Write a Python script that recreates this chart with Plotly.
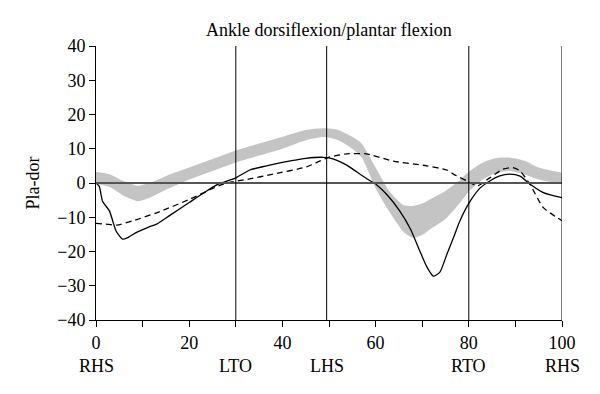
import plotly.graph_objects as go

# Normal band (gray)
band_x = [0, 3, 6, 9, 12, 15, 20, 25, 30, 35, 40, 45, 49, 52, 55, 57, 60, 63, 66, 68, 70, 72, 75, 78, 80, 83, 86, 89, 92, 95, 100]
band_top = [3.3, 2.5, 0.5, -0.8, 0.3, 2, 4.5, 7, 9.5, 11.5, 13.5, 15.5, 16, 15.5, 13.5, 11.5, 4.5, -2.5, -6.5, -6.7, -6, -4.5, -2.3, 0.8, 3.3, 6, 7.3, 7.4, 6.5, 4.5, 3]
band_bot = [-0.2, -1.2, -3.8, -5.3, -4, -2, 1, 3.5, 6, 8, 10, 12.5, 13.4, 12.5, 10, 7.5, -1.5, -8.5, -14.3, -16, -15.2, -13.2, -10.5, -6, -2.5, 1, 3, 3.5, 2.5, 1, -0.3]

# Solid patient curve
solid_x = [0, 0.7, 1.4, 2.9, 4.3, 5.7, 7, 8.6, 11.4, 13, 16, 20, 23, 26, 30, 33, 36.6, 40, 45, 48.8, 51, 53.8, 56, 58.4, 60.2, 62.5, 65.2, 67.5, 69.5, 71, 72.4, 73.8, 75.3, 76.7, 78.1, 80.3, 82.4, 84.5, 86.5, 88.8, 91, 93.1, 96, 100]
solid_y = [0, -1, -5.3, -8.2, -14, -16.4, -15.8, -14.5, -12.8, -12, -9.3, -5.7, -3, -0.5, 1.5, 3.8, 5, 6, 7.2, 7.5, 7, 5.2, 3.2, 1, -0.5, -3.5, -8.2, -13.5, -19.9, -24.5, -27.2, -26, -20.8, -16, -11, -5.3, -1.5, 0.6, 2, 2.6, 2, -0.3, -2.8, -4.3]

# Dashed patient curve
dash_x = [0, 2, 4.5, 8, 13, 20.2, 27.3, 33, 38, 45.2, 48, 50.2, 53.8, 58, 63.8, 71, 75.3, 76.7, 79.6, 81.8, 82.4, 84.5, 87.3, 89.5, 91, 93.1, 96, 100]
dash_y = [-11.8, -12, -12.3, -11, -8.7, -4.7, -0.3, 1.2, 2.6, 4.7, 6.4, 7.6, 8.5, 8.5, 6.4, 5, 3.8, 2.6, 0.6, -0.9, -0.5, 1.5, 4, 4.5, 3.5, -0.3, -7.2, -11]

event_x = [30, 49.5, 80, 100]
event_labels = ["RHS", "LTO", "LHS", "RTO", "RHS"]
event_label_x = [0, 30, 49.5, 80, 100]

x_tickvals = [0, 10, 20, 30, 40, 50, 60, 70, 80, 90, 100]
x_ticktext = ["0", "", "20", "", "40", "", "60", "", "80", "", "100"]
y_tickvals = [-40, -30, -20, -10, 0, 10, 20, 30, 40]
y_ticktext = ["\u221240", "\u221230", "\u221220", "\u221210", "0", "10", "20", "30", "40"]

FONT = "Liberation Serif"

fig = go.Figure()
fig.add_trace(go.Scatter(x=band_x, y=band_bot, mode="lines", line=dict(width=0, color="#c4c4c4", shape="spline", smoothing=0.6),
                         showlegend=False, hoverinfo="skip"))
fig.add_trace(go.Scatter(x=band_x, y=band_top, mode="lines", line=dict(width=0, color="#c4c4c4", shape="spline", smoothing=0.6),
                         fill="tonexty", fillcolor="#c4c4c4", showlegend=False, hoverinfo="skip"))
fig.add_trace(go.Scatter(x=dash_x, y=dash_y, mode="lines", line=dict(color="black", width=1.3, dash="6px,4px", shape="spline", smoothing=0.6),
                         showlegend=False))
fig.add_trace(go.Scatter(x=solid_x, y=solid_y, mode="lines", line=dict(color="black", width=1.3, shape="spline", smoothing=0.6),
                         showlegend=False))

# zero line
fig.add_shape(type="line", xref="x", yref="y", x0=0, x1=100, y0=0, y1=0, line=dict(color="#555555", width=2))
for ex in event_x:
    fig.add_shape(type="line", xref="x", yref="y", x0=ex, x1=ex, y0=-40, y1=40, line=dict(color="black", width=1))

for lbl, lx in zip(event_labels, event_label_x):
    fig.add_annotation(x=lx, y=-0.168, xref="x", yref="paper", text=lbl, showarrow=False,
                       yanchor="middle", font=dict(family=FONT, size=18, color="black"))

fig.update_layout(
    width=592, height=386,
    margin=dict(l=88, r=38, t=38, b=74),
    paper_bgcolor="white", plot_bgcolor="white",
    title=dict(text="Ankle dorsiflexion/plantar flexion", x=0.542, xanchor="center", y=0.943, yanchor="middle",
               font=dict(family=FONT, size=18, color="black")),
    font=dict(family=FONT, size=18, color="black"),
    xaxis=dict(range=[0, 100], tickvals=x_tickvals, ticktext=x_ticktext, ticks="outside", ticklen=6,
               tickcolor="black", showline=True, linecolor="black", linewidth=1, showgrid=False, zeroline=False,
               tickfont=dict(family=FONT, size=18)),
    yaxis=dict(range=[-40, 40], tickvals=y_tickvals, ticktext=y_ticktext, ticks="outside", ticklen=6,
               tickcolor="black", showline=True, linecolor="black", linewidth=1, showgrid=False, zeroline=False,
               title=dict(text="Pla-dor", font=dict(family=FONT, size=18), standoff=12),
               tickfont=dict(family=FONT, size=18)),
)

fig.write_html("out.html")
